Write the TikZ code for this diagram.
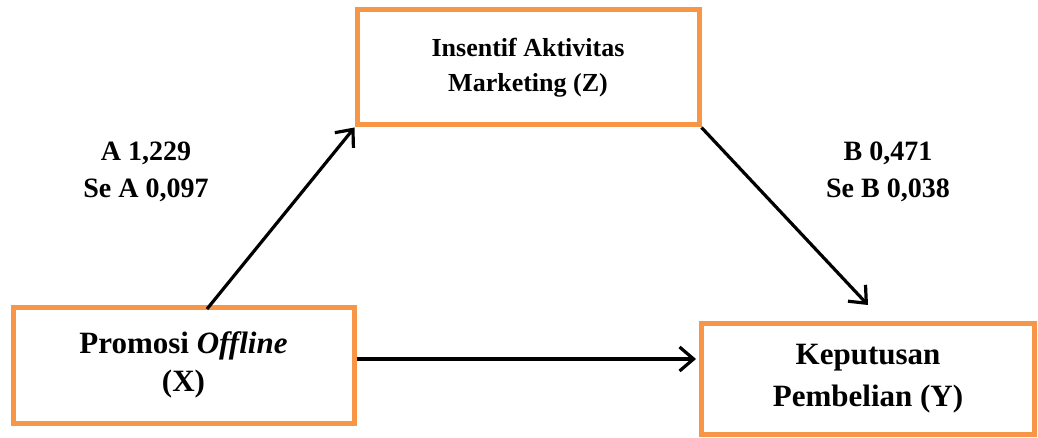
\documentclass[tikz,border=0pt]{standalone}
\usepackage{fontspec}
\setmainfont{Liberation Serif}
\usetikzlibrary{arrows.meta}
\definecolor{boxorange}{HTML}{F79646}
\begin{document}
\begin{tikzpicture}[x=1pt,y=-1pt,
  varbox/.style={draw=boxorange,line width=5pt,fill=white,align=center,inner sep=0pt,font=\bfseries},
  link/.style={line width=3.2pt,-{Straight Barb[length=14pt,width=24pt,line width=3.2pt]}},
  coef/.style={align=center,font=\fontsize{28}{37}\selectfont\bfseries}]
\useasboundingbox (0,0) rectangle (1038,438);
\node[varbox,minimum width=342pt,minimum height=115pt,font=\fontsize{26}{35}\selectfont\bfseries] (Z) at (528,67.5) {Insentif Aktivitas\\Marketing (Z)};
\node[varbox,minimum width=341pt,minimum height=116pt,font=\fontsize{31}{38}\selectfont\bfseries] (X) at (183.5,365) {Promosi \textit{Offline}\\(X)};
\node[varbox,minimum width=333pt,minimum height=111pt,font=\fontsize{31}{42}\selectfont\bfseries] (Y) at (868,378.5) {Keputusan\\Pembelian (Y)};
\coordinate (h) at (0,359);
\coordinate (ytip) at (868,305);
\coordinate (xstart) at (207,309);
\draw[link] (xstart) -- (Z.south west);
\draw[link] (Z.south east) -- (ytip);
\draw[link] (X.east |- h) -- ([xshift=-3pt]Y.west |- h);
\node[coef] (la) at (146,172) {A 1,229\\Se A 0,097};
\node[coef] (lb) at (888,172) {B 0,471\\Se B 0,038};
\end{tikzpicture}
\end{document}
